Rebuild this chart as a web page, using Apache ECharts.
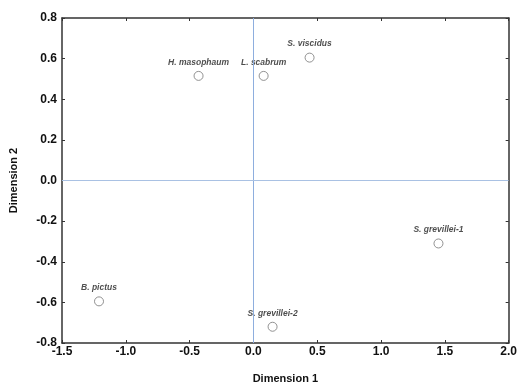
<!DOCTYPE html>
<html>
<head>
<meta charset="utf-8">
<script src="https://cdn.jsdelivr.net/npm/echarts@6/dist/echarts.min.js"></script>
<style>
  html, body { margin: 0; padding: 0; background: #fff; }
  #chart { width: 520px; height: 389px; }
</style>
</head>
<body>
<div id="chart"></div>
<script>
var names = ["H. masophaum", "L. scabrum", "S. viscidus", "S. grevillei-1", "S. grevillei-2", "B. pictus"];
var dim1 = [-0.43, 0.08, 0.44, 1.45, 0.15, -1.21];
var dim2 = [0.515, 0.515, 0.605, -0.31, -0.72, -0.595];
var xTicks = [-1.5, 2.0, 0.5];
var yTicks = [-0.8, 0.8, 0.2];

var myChart = echarts.init(document.getElementById('chart'));

var points = names.map(function(n, i) {
    return { name: n, value: [dim1[i], dim2[i]] };
});

var fontFamily = '"Liberation Sans", Arial, sans-serif';
var axisLine = { show: true, onZero: false, lineStyle: { color: '#333', width: 1.5 } };
var axisTick = { show: true, inside: true, length: 3, lineStyle: { color: '#333' } };

var option = {
    animation: false,
    grid: { left: 62, right: 11, top: 18, bottom: 43 },
    xAxis: [{
        type: 'value', min: xTicks[0], max: xTicks[1], interval: xTicks[2],
        name: 'Dimension 1', nameLocation: 'middle', nameGap: 30,
        nameTextStyle: { fontFamily: fontFamily, fontWeight: 'bold', fontSize: 11, color: '#111' },
        axisLine: axisLine, axisTick: axisTick,
        axisLabel: { fontFamily: fontFamily, fontWeight: 'bold', fontSize: 12, color: '#111', margin: 3,
            formatter: function(v) { return v.toFixed(1); } },
        splitLine: { show: false }
    }, {
        type: 'value', position: 'top', min: xTicks[0], max: xTicks[1], interval: xTicks[2],
        axisLine: axisLine, axisTick: axisTick, axisLabel: { show: false }, splitLine: { show: false }
    }],
    yAxis: [{
        type: 'value', min: yTicks[0], max: yTicks[1], interval: yTicks[2],
        name: 'Dimension 2', nameLocation: 'middle', nameGap: 43,
        nameTextStyle: { fontFamily: fontFamily, fontWeight: 'bold', fontSize: 11, color: '#111' },
        axisLine: axisLine, axisTick: axisTick,
        axisLabel: { fontFamily: fontFamily, fontWeight: 'bold', fontSize: 12, color: '#111', margin: 5,
            formatter: function(v) { return v.toFixed(1); } },
        splitLine: { show: false }
    }, {
        type: 'value', position: 'right', min: yTicks[0], max: yTicks[1], interval: yTicks[2],
        axisLine: axisLine, axisTick: axisTick, axisLabel: { show: false }, splitLine: { show: false }
    }],
    series: [{
        type: 'scatter',
        xAxisIndex: 0, yAxisIndex: 0,
        symbol: 'circle', symbolSize: 9,
        itemStyle: { color: '#fff', borderColor: '#777', borderWidth: 1 },
        label: {
            show: true, position: 'top', distance: 4,
            formatter: '{b}',
            fontFamily: fontFamily, fontStyle: 'italic', fontWeight: 'bold', fontSize: 8.5, color: '#222'
        },
        data: points,
        markLine: {
            silent: true, symbol: 'none', label: { show: false },
            lineStyle: { color: '#a9c1e3', type: 'solid', width: 1 },
            data: [
                { xAxis: 0, lineStyle: { color: '#8eaede', width: 1 } },
                { yAxis: 0 }
            ]
        }
    }]
};

myChart.setOption(option);
</script>
</body>
</html>
